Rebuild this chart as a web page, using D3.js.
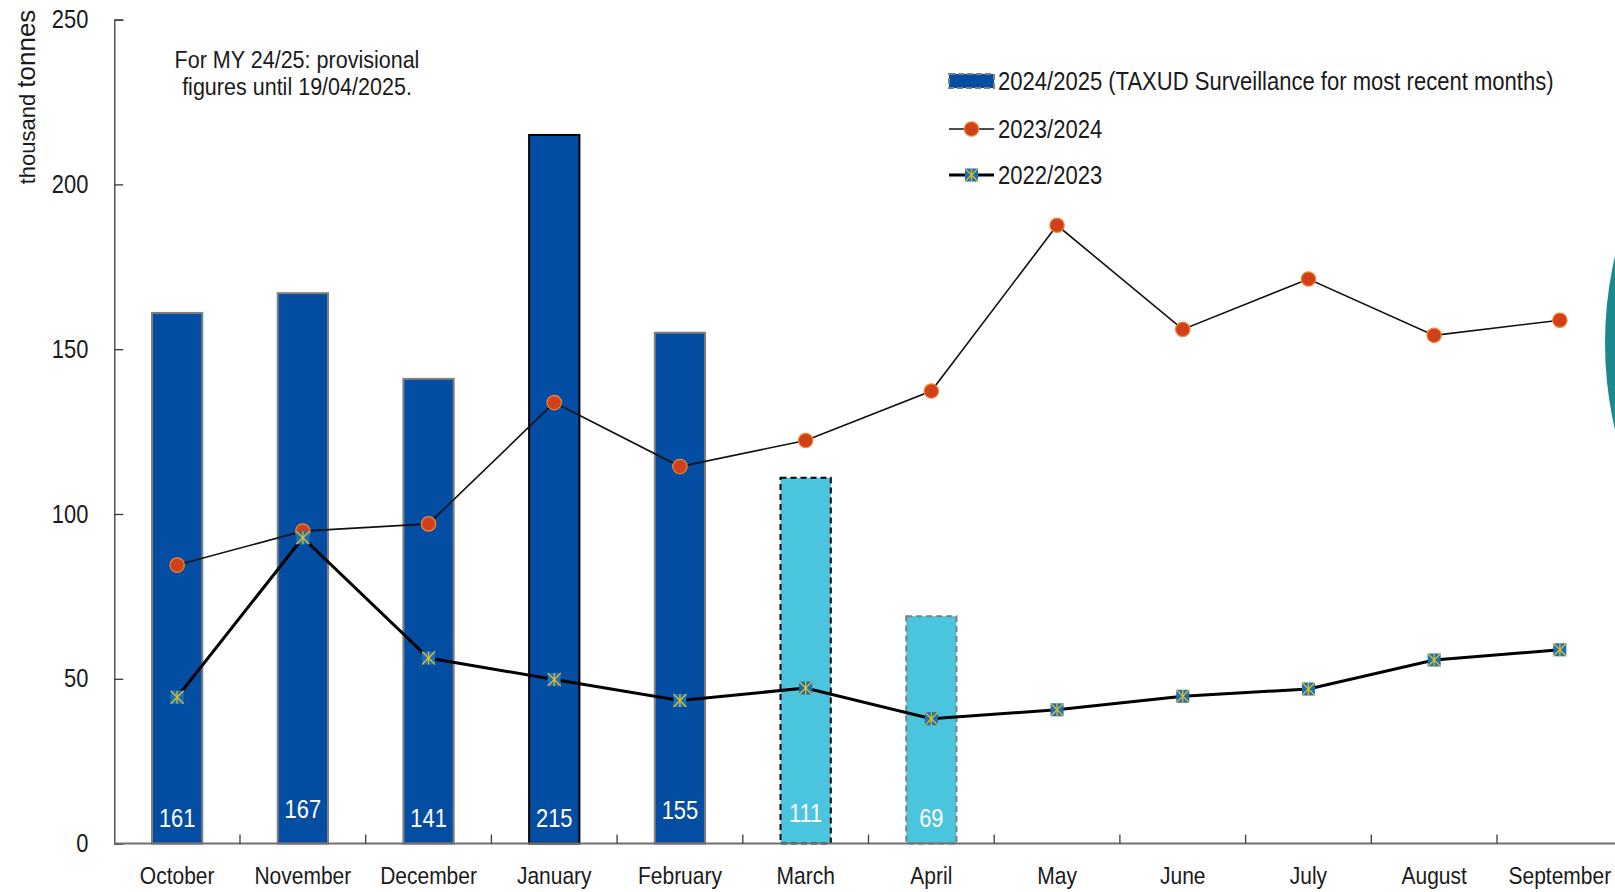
<!DOCTYPE html>
<html>
<head>
<meta charset="utf-8">
<script src="https://cdn.jsdelivr.net/npm/d3@7"></script>
<style>
  html, body { margin: 0; padding: 0; background: #fff; }
  svg { display: block; }
  text { font-family: "Liberation Sans", Arial, sans-serif; fill: #1a1a1a; }
</style>
</head>
<body>
<svg id="chart" width="1615" height="892"></svg>
<script>
// ---- data ----
const months = ["October","November","December","January","February","March","April","May","June","July","August","September"];
const bars2425 = [161, 167, 141, 215, 155, 111, 69];
const line2324 = [84.5, 94.8, 97.0, 133.8, 114.4, 122.3, 137.3, 187.6, 156.0, 171.3, 154.2, 158.8];
const line2223 = [44.4, 92.8, 56.3, 49.8, 43.4, 47.2, 37.9, 40.6, 44.7, 46.9, 55.7, 58.8];
const yTicks = [0, 50, 100, 150, 200, 250];
const legendLabels = ["2024/2025 (TAXUD Surveillance for most recent months)", "2023/2024", "2022/2023"];
const noteLines = ["For MY 24/25: provisional", "figures until 19/04/2025."];

// ---- styles (kept separate from data) ----
const DARK = "#034ea2", LIGHT = "#4bc4de", GREY = "#7f7f7f";
const barStyles = [
  {fill: DARK, stroke: GREY, dash: null, sw: 2, raise: 0},
  {fill: DARK, stroke: GREY, dash: null, sw: 2, raise: 9},
  {fill: DARK, stroke: GREY, dash: null, sw: 2, raise: 0},
  {fill: DARK, stroke: "#000", dash: null, sw: 2, raise: 0},
  {fill: DARK, stroke: GREY, dash: null, sw: 2, raise: 8},
  {fill: LIGHT, stroke: "#000", dash: "6,4", sw: 2, raise: 5},
  {fill: LIGHT, stroke: GREY, dash: "6,4", sw: 2, raise: 0}
];
const SX = 0.875; // horizontal condensing of the text face

const svg = d3.select("#chart");

const x = d3.scaleBand().domain(months).range([114.3, 1622.7]).paddingInner(0.6).paddingOuter(0.3);
const step = x.step();
const xc = m => x(m) + x.bandwidth() / 2;
const y = d3.scaleLinear().domain([0, 250]).range([843.6, 19.6]);

const place = (px, py) => `translate(${px},${py}) scale(${SX},1)`;

// teal decorative circle at right edge (part of original page)
svg.append("circle").attr("cx", 1988).attr("cy", 343).attr("r", 383).attr("fill", "#1c8a8d");

// ---- bars ----
const barData = bars2425.map((v, i) => ({m: months[i], v, s: barStyles[i]}));
svg.append("g").selectAll("rect").data(barData).join("rect")
  .attr("x", d => x(d.m))
  .attr("y", d => y(d.v))
  .attr("width", x.bandwidth())
  .attr("height", d => y(0) - y(d.v))
  .attr("fill", d => d.s.fill)
  .attr("stroke", d => d.s.stroke)
  .attr("stroke-width", d => d.s.sw)
  .attr("stroke-dasharray", d => d.s.dash);

svg.append("g").selectAll("text").data(barData).join("text")
  .attr("transform", d => place(xc(d.m), 827 - d.s.raise))
  .attr("text-anchor", "middle")
  .attr("font-size", 25)
  .style("fill", "#fff")
  .text(d => d.v);

// ---- axes ----
const yAxis = d3.axisLeft(y).tickValues(yTicks).tickSize(-9).tickPadding(26).tickFormat(d3.format("d"));
const gy = svg.append("g").attr("transform", "translate(114.3,0)").call(yAxis);
gy.select(".domain").attr("stroke", "#3a3a3a").attr("stroke-width", 1.3);
gy.selectAll(".tick line").attr("stroke", "#3a3a3a").attr("stroke-width", 1.3);
gy.selectAll(".tick text").attr("font-size", 25).attr("font-family", null).style("fill", "#1a1a1a")
  .attr("x", 0).attr("transform", place(-26, 0));

// x axis line
svg.append("line").attr("x1", 114.3).attr("x2", 1615).attr("y1", y(0)).attr("y2", y(0))
  .attr("stroke", "#707070").attr("stroke-width", 2);
// x ticks at band boundaries
svg.append("g").selectAll("line").data(months.slice(1)).join("line")
  .attr("x1", d => x(d) - step * 0.3).attr("x2", d => x(d) - step * 0.3)
  .attr("y1", y(0)).attr("y2", y(0) - 9)
  .attr("stroke", "#3a3a3a").attr("stroke-width", 1.3);
svg.append("g").selectAll("text").data(months).join("text")
  .attr("transform", d => place(xc(d), 884))
  .attr("text-anchor", "middle").attr("font-size", 24)
  .text(d => d);

// y title
const yt = svg.append("text").attr("transform", "translate(35,97) rotate(-90)").attr("text-anchor", "middle");
yt.append("tspan").attr("font-size", 22).text("thousand ");
yt.append("tspan").attr("font-size", 26).text("tonnes");

// ---- lines ----
const lineGen = d3.line().x(d => xc(d.m)).y(d => y(d.v));
const d2324 = line2324.map((v, i) => ({m: months[i], v}));
const d2223 = line2223.map((v, i) => ({m: months[i], v}));

svg.append("path").datum(d2324).attr("d", lineGen).attr("fill", "none").attr("stroke", "#111").attr("stroke-width", 1.6);
svg.append("path").datum(d2223).attr("d", lineGen).attr("fill", "none").attr("stroke", "#000").attr("stroke-width", 3);

function squareMarker(g, cx, cy, s) {
  const h = s / 2;
  g.append("rect").attr("x", cx - h).attr("y", cy - h).attr("width", s).attr("height", s).attr("fill", "#1a6fbf");
  [[-h, -h, h, h], [-h, h, h, -h], [0, -h, 0, h]].forEach(p => {
    g.append("line").attr("x1", cx + p[0]).attr("y1", cy + p[1]).attr("x2", cx + p[2]).attr("y2", cy + p[3])
      .attr("stroke", "#e0bf1c").attr("stroke-width", 1.3);
  });
}
function circleMarker(g, cx, cy) {
  g.append("circle").attr("cx", cx).attr("cy", cy).attr("r", 7.2).attr("fill", "#d2401b").attr("stroke", "#ef8a2e").attr("stroke-width", 1.2);
}

const g2324 = svg.append("g");
d2324.forEach(d => circleMarker(g2324, xc(d.m), y(d.v)));
const g2223 = svg.append("g");
d2223.forEach(d => squareMarker(g2223, xc(d.m), y(d.v), 13));

// ---- legend ----
const lg = svg.append("g");
const lx0 = 949, lx1 = 994, lrows = [81, 129, 175];
lg.append("rect").attr("x", lx0).attr("y", lrows[0] - 7).attr("width", lx1 - lx0).attr("height", 14)
  .attr("fill", DARK).attr("stroke", GREY).attr("stroke-width", 2).attr("stroke-dasharray", "6,3");
lg.append("line").attr("x1", lx0).attr("x2", lx1).attr("y1", lrows[1]).attr("y2", lrows[1]).attr("stroke", "#111").attr("stroke-width", 1.6);
circleMarker(lg, (lx0 + lx1) / 2, lrows[1]);
lg.append("line").attr("x1", lx0).attr("x2", lx1).attr("y1", lrows[2]).attr("y2", lrows[2]).attr("stroke", "#000").attr("stroke-width", 3);
squareMarker(lg, (lx0 + lx1) / 2, lrows[2], 13);
lg.selectAll("text.lab").data(legendLabels).join("text").attr("class", "lab")
  .attr("transform", (d, i) => place(998, lrows[i])).attr("dy", "0.35em")
  .attr("font-size", 25.2).text(d => d);

// ---- note ----
svg.append("g").selectAll("text").data(noteLines).join("text")
  .attr("transform", (d, i) => place(297, 68 + i * 27))
  .attr("text-anchor", "middle").attr("font-size", 24.6)
  .text(d => d);
</script>
</body>
</html>
